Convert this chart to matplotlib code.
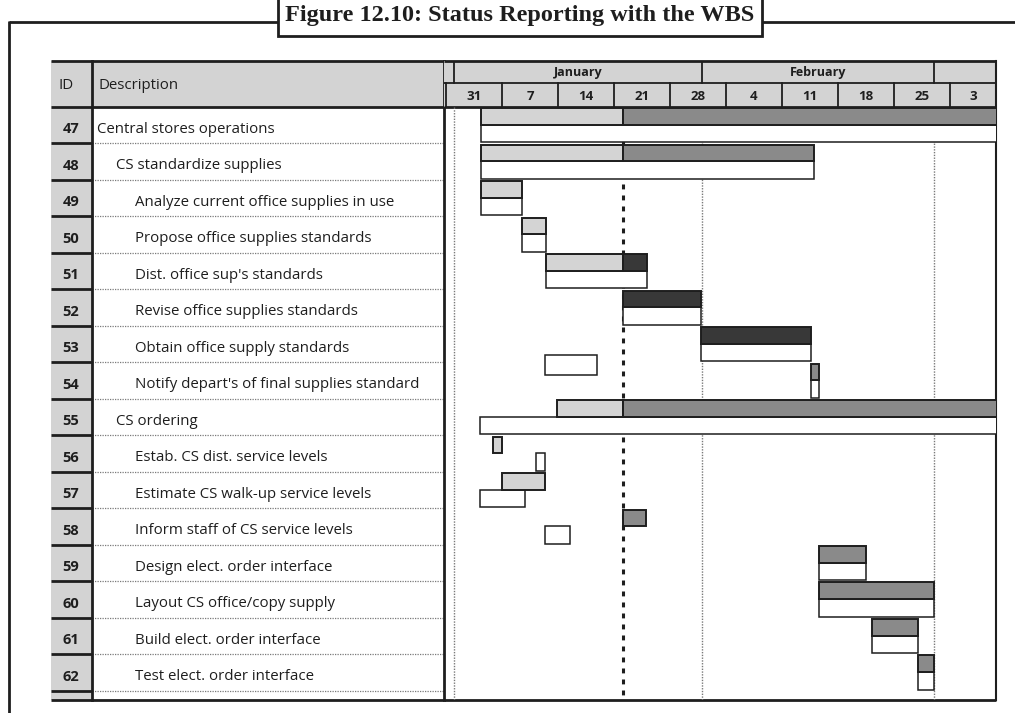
import matplotlib
matplotlib.use("Agg")
import matplotlib.pyplot as plt
import matplotlib.dates as mdates
import pandas as pd

plt.rcParams['font.family'] = ['Open Sans', 'DejaVu Sans']

# ---------------------------------------------------------------- data
task_ids = list(range(47, 63))
descriptions = [
    "Central stores operations",
    "CS standardize supplies",
    "Analyze current office supplies in use",
    "Propose office supplies standards",
    "Dist. office sup's standards",
    "Revise office supplies standards",
    "Obtain office supply standards",
    "Notify depart's of final supplies standard",
    "CS ordering",
    "Estab. CS dist. service levels",
    "Estimate CS walk-up service levels",
    "Inform staff of CS service levels",
    "Design elect. order interface",
    "Layout CS office/copy supply",
    "Build elect. order interface",
    "Test elect. order interface",
]
outline_levels = [0, 1, 2, 2, 2, 2, 2, 2, 1, 2, 2, 2, 2, 2, 2, 2]

actual_start = [
    "1996-01-04 08:00", "1996-01-04 08:00", "1996-01-04 08:00", "1996-01-09 11:00",
    "1996-01-12 12:00", "1996-01-22 02:00", "1996-01-31 22:00", "1996-02-14 14:00",
    "1996-01-13 22:00", "1996-01-05 20:00", "1996-01-07 01:00", "1996-01-22 02:00",
    "1996-02-15 14:00", "1996-02-15 14:00", "1996-02-22 05:00", "1996-02-28 00:00"]
actual_finish = [
    "1996-03-31 00:00", "1996-02-15 00:00", "1996-01-09 11:00", "1996-01-12 12:00",
    "1996-01-25 02:00", "1996-01-31 22:00", "1996-02-14 14:00", "1996-02-15 14:00",
    "1996-03-31 00:00", "1996-01-06 23:00", "1996-01-12 10:00", "1996-01-25 01:00",
    "1996-02-21 12:00", "1996-03-01 00:00", "1996-02-28 00:00", "1996-03-01 00:00"]
baseline_start = [
    "1996-01-04 08:00", "1996-01-04 08:00", "1996-01-04 08:00", "1996-01-09 11:00",
    "1996-01-12 12:00", "1996-01-22 02:00", "1996-01-31 22:00", "1996-02-14 14:00",
    "1996-01-04 07:00", "1996-01-11 07:00", "1996-01-04 07:00", "1996-01-12 10:00",
    "1996-02-15 14:00", "1996-02-15 14:00", "1996-02-22 05:00", "1996-02-28 00:00"]
baseline_finish = [
    "1996-03-31 00:00", "1996-02-15 00:00", "1996-01-09 11:00", "1996-01-12 12:00",
    "1996-01-25 02:00", "1996-01-31 22:00", "1996-02-14 14:00", "1996-02-15 14:00",
    "1996-03-31 00:00", "1996-01-12 10:00", "1996-01-09 22:00", "1996-01-15 12:00",
    "1996-02-21 12:00", "1996-03-01 00:00", "1996-02-28 00:00", "1996-03-01 00:00"]
critical = [False, False, False, False, True, True, True, False,
            False, False, False, False, False, False, False, False]

# earlier plan kept for task 54
interim_ids = [54]
interim_start = ["1996-01-12 10:00"]
interim_finish = ["1996-01-18 22:00"]

status_date = "1996-01-22 02:00"
view_start = "1995-12-30 18:00"
view_end = "1996-03-08 18:00"

week_starts = ["1995-12-31", "1996-01-07", "1996-01-14", "1996-01-21", "1996-01-28",
               "1996-02-04", "1996-02-11", "1996-02-18", "1996-02-25", "1996-03-03"]
week_labels = ["31", "7", "14", "21", "28", "4", "11", "18", "25", "3"]
month_starts = ["1996-01-01", "1996-02-01", "1996-03-01"]
month_labels = ["January", "February", ""]

title = "Figure 12.10: Status Reporting with the WBS"

# ---------------------------------------------------------------- styles
W, H = 1015, 713
ink = "#1e1e1e"
header_gray = "#d3d3d3"
done_gray = "#d4d4d4"
remain_gray = "#8a8a8a"
critical_dark = "#383838"
rule_gray = "#7a7a7a"

HDR_TOP, HDR_MID, HDR_BOT = -1.25, -0.64, 0.0
n_rows = len(task_ids)
BOTTOM = n_rows + 0.26
TXT = 10.8

def num(s):
    return mdates.date2num(pd.Timestamp(s))

x0, x1 = num(view_start), num(view_end)
status = num(status_date)

fig = plt.figure(figsize=(W / 100, H / 100), dpi=100)

# frame and caption box (pixel coordinates)
bg = fig.add_axes([0, 0, 1, 1], zorder=0)
bg.set_xlim(0, W)
bg.set_ylim(H, 0)
bg.axis("off")
bg.plot([9, 278], [22, 22], color=ink, lw=2, solid_capstyle="butt")
bg.plot([762, W], [22, 22], color=ink, lw=2, solid_capstyle="butt")
bg.plot([9, 9], [21, H], color=ink, lw=2, solid_capstyle="butt")
bg.add_patch(plt.Rectangle((278, -5), 484, 41, facecolor="white", edgecolor=ink, lw=2))
bg.text(520, 15, title, ha="center", va="center", fontsize=17.5, fontweight="bold",
        family=["Liberation Serif", "DejaVu Serif"], color=ink)

ax_bottom = (H - 700) / H
ax_height = (700 - 61) / H
tab = fig.add_axes([51 / W, ax_bottom, (444 - 51) / W, ax_height], zorder=1)
ax = fig.add_axes([444 / W, ax_bottom, (996 - 444) / W, ax_height], zorder=1, sharey=tab)
for a in (tab, ax):
    a.set_ylim(BOTTOM, HDR_TOP)
    a.axis("off")
tab.set_xlim(51, 444)
ax.set_xlim(x0, x1)

# ---------------------------------------------------------------- table side
tab.axhspan(HDR_TOP, HDR_BOT, color=header_gray, lw=0)
tab.fill_between([51, 92], HDR_BOT, BOTTOM, color=header_gray, lw=0)
hdr_y = (HDR_TOP + HDR_BOT) / 2 + 0.06
tab.text(66, hdr_y, "ID", ha="center", va="center", fontsize=TXT, color=ink)
tab.text(99, hdr_y, "Description", ha="left", va="center", fontsize=TXT, color=ink)

indent_x = [97, 116, 135]
for i, (tid, desc, lvl) in enumerate(zip(task_ids, descriptions, outline_levels)):
    tab.text(71, i + 0.62, str(tid), ha="center", va="center", fontsize=10.5,
             fontweight="bold", color=ink)
    tab.text(indent_x[lvl], i + 0.62, desc, ha="left", va="center", fontsize=TXT, color=ink)

for j in range(1, n_rows + 1):
    tab.plot([51, 92], [j, j], color=ink, lw=2, solid_capstyle="butt")
    tab.plot([92, 444], [j, j], color=rule_gray, lw=0.9, ls=(0, (1, 1)))
for yy in (HDR_TOP, HDR_BOT, BOTTOM):
    tab.plot([51, 444], [yy, yy], color=ink, lw=2, solid_capstyle="butt", clip_on=False)
tab.plot([92, 92], [HDR_TOP, BOTTOM], color=ink, lw=2, clip_on=False)
tab.plot([444, 444], [HDR_TOP, BOTTOM], color=ink, lw=2, clip_on=False)

# ---------------------------------------------------------------- timescale header
ax.axhspan(HDR_TOP, HDR_BOT, color=header_gray, lw=0)
for yy in (HDR_TOP, HDR_BOT, BOTTOM):
    ax.plot([x0, x1], [yy, yy], color=ink, lw=2, solid_capstyle="butt", clip_on=False)
ax.plot([x0, x1], [HDR_MID, HDR_MID], color=ink, lw=1.3)
ax.plot([x1, x1], [HDR_TOP, BOTTOM], color=ink, lw=1.5, clip_on=False)

m_edges = [x0] + [num(m) for m in month_starts] + [x1]
m_texts = [""] + month_labels
for k in range(len(m_edges) - 1):
    a, b = m_edges[k], m_edges[k + 1]
    if k > 0:
        ax.plot([a, a], [HDR_TOP, HDR_MID], color=ink, lw=1.3)
    if m_texts[k]:
        ax.text((a + b) / 2, (HDR_TOP + HDR_MID) / 2 + 0.02, m_texts[k], ha="center",
                va="center", fontsize=9, fontweight="bold", color=ink)

w_nums = [num(w) for w in week_starts]
for k, (ws, lab) in enumerate(zip(w_nums, week_labels)):
    a = max(ws, x0)
    b = min(ws + 7, x1)
    if ws > x0:
        ax.plot([ws, ws], [HDR_MID, HDR_BOT], color=ink, lw=1.3)
    ax.text((a + b) / 2, (HDR_MID + HDR_BOT) / 2 + 0.03, lab, ha="center", va="center",
            fontsize=9.5, fontweight="bold", color=ink)

# month gridlines and status date
for m in month_starts:
    ax.plot([num(m), num(m)], [HDR_BOT, BOTTOM], color=rule_gray, lw=1, ls=(0, (1, 1)))
ax.plot([status, status], [HDR_BOT, BOTTOM], color=ink, lw=2.2, ls=(0, (1.6, 2)))

# ---------------------------------------------------------------- bars
for i in range(n_rows):
    s, f = num(actual_start[i]), num(actual_finish[i])
    if s < status:
        e = min(f, status)
        ax.barh(i + 0.04, e - s, left=s, height=0.46, align="edge",
                color=done_gray, edgecolor=ink, lw=1.4, zorder=3)
    if f > status:
        b = max(s, status)
        ax.barh(i + 0.04, f - b, left=b, height=0.46, align="edge",
                color=critical_dark if critical[i] else remain_gray,
                edgecolor=ink, lw=1.4, zorder=3)
    bs, bf = num(baseline_start[i]), num(baseline_finish[i])
    ax.barh(i + 0.5, bf - bs, left=bs, height=0.48, align="edge",
            color="white", edgecolor=ink, lw=1.1, zorder=2)

for tid, s, f in zip(interim_ids, interim_start, interim_finish):
    i = task_ids.index(tid)
    ax.barh(i - 0.2, num(f) - num(s), left=num(s), height=0.55, align="edge",
            color="white", edgecolor=ink, lw=1.1, zorder=2)

fig.savefig("out.png", dpi=100)
